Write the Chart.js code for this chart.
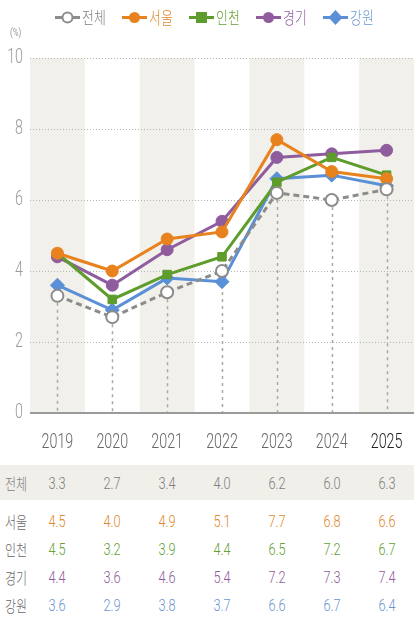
<!DOCTYPE html>
<html lang="ko">
<head>
<meta charset="utf-8">
<script src="https://cdn.jsdelivr.net/npm/chart.js@4/dist/chart.umd.min.js"></script>
<style>
  html, body { margin: 0; padding: 0; background: #fff; }
  #wrap { position: relative; width: 414px; height: 624px; overflow: hidden; font-family: Roboto, "Noto Sans CJK KR", sans-serif; }
  #chartBox { position: absolute; left: 0; top: 0; width: 414px; height: 460px; }
  #legend { position: absolute; top: 7px; left: 16px; width: 398px; display: flex; justify-content: center; gap: 15px;
            font-family: "Noto Sans CJK KR", sans-serif; font-size: 17px; font-weight: 300; line-height: 20px; }
  .lg { display: flex; align-items: center; gap: 2px; }
  .lg span { display: inline-block; width: 25px; transform: scaleX(0.76); transform-origin: left center; white-space: nowrap; }
  #unit { position: absolute; left: 10px; top: 27px; font-size: 10px; color: #999; transform: scaleX(0.8); transform-origin: left; }
  .row { position: absolute; left: 0; width: 414px; height: 28px; }
  .row span { position: absolute; top: 50%; transform: translate(-50%, -50%) scaleX(0.75); font-size: 17px; font-weight: 300; white-space: nowrap; }
  .row .lab { left: 16px; font-family: "Noto Sans CJK KR", sans-serif; font-weight: 300; font-size: 16px; }
</style>
</head>
<body>
<div id="wrap">
  <div id="chartBox"><canvas id="geoChart"></canvas></div>
  <div id="legend"></div>
  <div id="unit">(%)</div>
  <div id="table"></div>
</div>
<script>
// 데이터
const years = ['2019', '2020', '2021', '2022', '2023', '2024', '2025'];
const seriesNames = ['전체', '서울', '인천', '경기', '강원'];
const totalVals = [3.3, 2.7, 3.4, 4.0, 6.2, 6.0, 6.3];
const seoulVals = [4.5, 4.0, 4.9, 5.1, 7.7, 6.8, 6.6];
const incheonVals = [4.5, 3.2, 3.9, 4.4, 6.5, 7.2, 6.7];
const gyeonggiVals = [4.4, 3.6, 4.6, 5.4, 7.2, 7.3, 7.4];
const gangwonVals = [3.6, 2.9, 3.8, 3.7, 6.6, 6.7, 6.4];
const yTicks = [0, 2, 4, 6, 8, 10];

const colors = ['#8c8c8c', '#e8821e', '#5e9c2c', '#8f5c9e', '#5b8fd6'];
const textColors = ['#808080', '#e0872a', '#64a033', '#8f5c9e', '#6a96d0'];
const styles = ['circle', 'circle', 'rect', 'circle', 'rectRot'];
const allVals = [totalVals, seoulVals, incheonVals, gyeonggiVals, gangwonVals];

// 배경 줄무늬, 격자, 전체 수직 점선
const bandPlugin = {
    id: 'bands',
    beforeDatasetsDraw(chart) {
        const { ctx, chartArea: a, scales: { x, y } } = chart;
        const w = x.getPixelForValue(1) - x.getPixelForValue(0);
        ctx.save();
        ctx.fillStyle = '#f1f0eb';
        years.forEach((yr, i) => {
            if (i % 2 === 0) {
                const cx = x.getPixelForValue(i);
                ctx.fillRect(cx - w / 2, a.top, w, a.bottom - a.top);
            }
        });
        ctx.strokeStyle = '#b5b5b5';
        ctx.lineWidth = 1;
        ctx.setLineDash([1, 2]);
        yTicks.forEach(v => {
            if (v === 0) return;
            const py = Math.round(y.getPixelForValue(v)) + 0.5;
            ctx.beginPath(); ctx.moveTo(a.left, py); ctx.lineTo(a.right, py); ctx.stroke();
        });
        ctx.strokeStyle = '#a8a8a8';
        ctx.lineWidth = 1.5;
        ctx.setLineDash([3, 4]);
        totalVals.forEach((v, i) => {
            const px = Math.round(x.getPixelForValue(i)) + 0.5;
            ctx.beginPath(); ctx.moveTo(px, y.getPixelForValue(v)); ctx.lineTo(px, a.bottom); ctx.stroke();
        });
        ctx.setLineDash([]);
        ctx.strokeStyle = '#9a9a9a';
        ctx.lineWidth = 2;
        ctx.beginPath(); ctx.moveTo(a.left, a.bottom); ctx.lineTo(a.right, a.bottom); ctx.stroke();
        ctx.restore();
    },
    // 좁은 글꼴 흉내: 눈금 글자를 가로로 줄여서 그림
    afterDraw(chart) {
        const { ctx, chartArea: a, scales: { x, y } } = chart;
        ctx.save();
        ctx.font = '300 21px Roboto, sans-serif';
        ctx.textBaseline = 'middle';
        ctx.textAlign = 'center';
        x.ticks.forEach((t, i) => {
            ctx.fillStyle = i === years.length - 1 ? '#222' : '#666';
            ctx.save();
            ctx.translate(x.getPixelForTick(i), a.bottom + 30);
            ctx.scale(0.68, 1);
            ctx.fillText(x.getLabelForValue(t.value), 0, 0);
            ctx.restore();
        });
        ctx.textAlign = 'right';
        ctx.fillStyle = '#9a9a9a';
        y.ticks.forEach(t => {
            ctx.save();
            ctx.translate(a.left - 7, y.getPixelForValue(t.value));
            ctx.scale(0.68, 1);
            ctx.fillText(String(t.value), 0, 0);
            ctx.restore();
        });
        ctx.restore();
    }
};

const datasets = seriesNames.map((name, i) => ({
    label: name,
    data: allVals[i],
    borderColor: colors[i],
    backgroundColor: i === 0 ? '#ffffff' : colors[i],
    borderWidth: 3,
    borderDash: i === 0 ? [6, 4] : [],
    pointStyle: styles[i],
    pointRadius: styles[i] === 'rectRot' ? 7 : 6,
    pointBorderWidth: i === 0 ? 2 : 1,
    pointBorderColor: colors[i],
    pointBackgroundColor: i === 0 ? '#ffffff' : colors[i],
    tension: 0
}));

const chart = new Chart(document.getElementById('geoChart'), {
    type: 'line',
    data: { labels: years, datasets },
    options: {
        responsive: true,
        maintainAspectRatio: false,
        animation: false,
        layout: { autoPadding: false, padding: { top: 58, right: 0, left: 0, bottom: 0 } },
        plugins: { legend: { display: false }, tooltip: { enabled: false } },
        scales: {
            x: {
                offset: true,
                grid: { display: false, drawTicks: false },
                border: { display: false },
                ticks: { display: false },
                afterFit(s) { s.height = 47; s.paddingLeft = 0; s.paddingRight = 0; }
            },
            y: {
                min: 0, max: 10,
                afterBuildTicks(s) { s.ticks = yTicks.map(v => ({ value: v })); },
                grid: { display: false, drawTicks: false },
                border: { display: false },
                ticks: { display: false },
                afterFit(s) { s.width = 30; s.paddingTop = 0; s.paddingBottom = 0; }
            }
        }
    },
    plugins: [bandPlugin]
});

// 범례
const legend = document.getElementById('legend');
seriesNames.forEach((name, i) => {
    const c = colors[i];
    let mk;
    if (styles[i] === 'rect') mk = `<rect x="7" y="4" width="11" height="11" fill="${c}"/>`;
    else if (styles[i] === 'rectRot') mk = `<polygon points="12.5,2 19.5,9.5 12.5,17 5.5,9.5" fill="${c}"/>`;
    else if (i === 0) mk = `<circle cx="12.5" cy="9.5" r="5" fill="#fff" stroke="${c}" stroke-width="2"/>`;
    else mk = `<circle cx="12.5" cy="9.5" r="5.5" fill="${c}"/>`;
    legend.insertAdjacentHTML('beforeend',
        `<div class="lg"><svg width="25" height="19"><line x1="0" y1="9.5" x2="25" y2="9.5" stroke="${c}" stroke-width="3"/>${mk}</svg>` +
        `<span style="color:${textColors[i]}">${name}</span></div>`);
});

// 표
const table = document.getElementById('table');
const rowCenters = [483, 521, 549, 577, 605];
seriesNames.forEach((name, r) => {
    const row = document.createElement('div');
    row.className = 'row';
    row.style.top = (rowCenters[r] - 14) + 'px';
    if (r === 0) { row.style.background = '#f0efea'; row.style.height = '35px'; row.style.top = '465px'; }
    let html = `<span class="lab" style="color:${r === 0 ? '#808080' : '#666'}">${name}</span>`;
    allVals[r].forEach((v, i) => {
        const px = chart.scales.x.getPixelForValue(i);
        html += `<span style="left:${px}px;color:${textColors[r]}">${v.toFixed(1)}</span>`;
    });
    row.innerHTML = html;
    table.appendChild(row);
});
</script>
</body>
</html>
